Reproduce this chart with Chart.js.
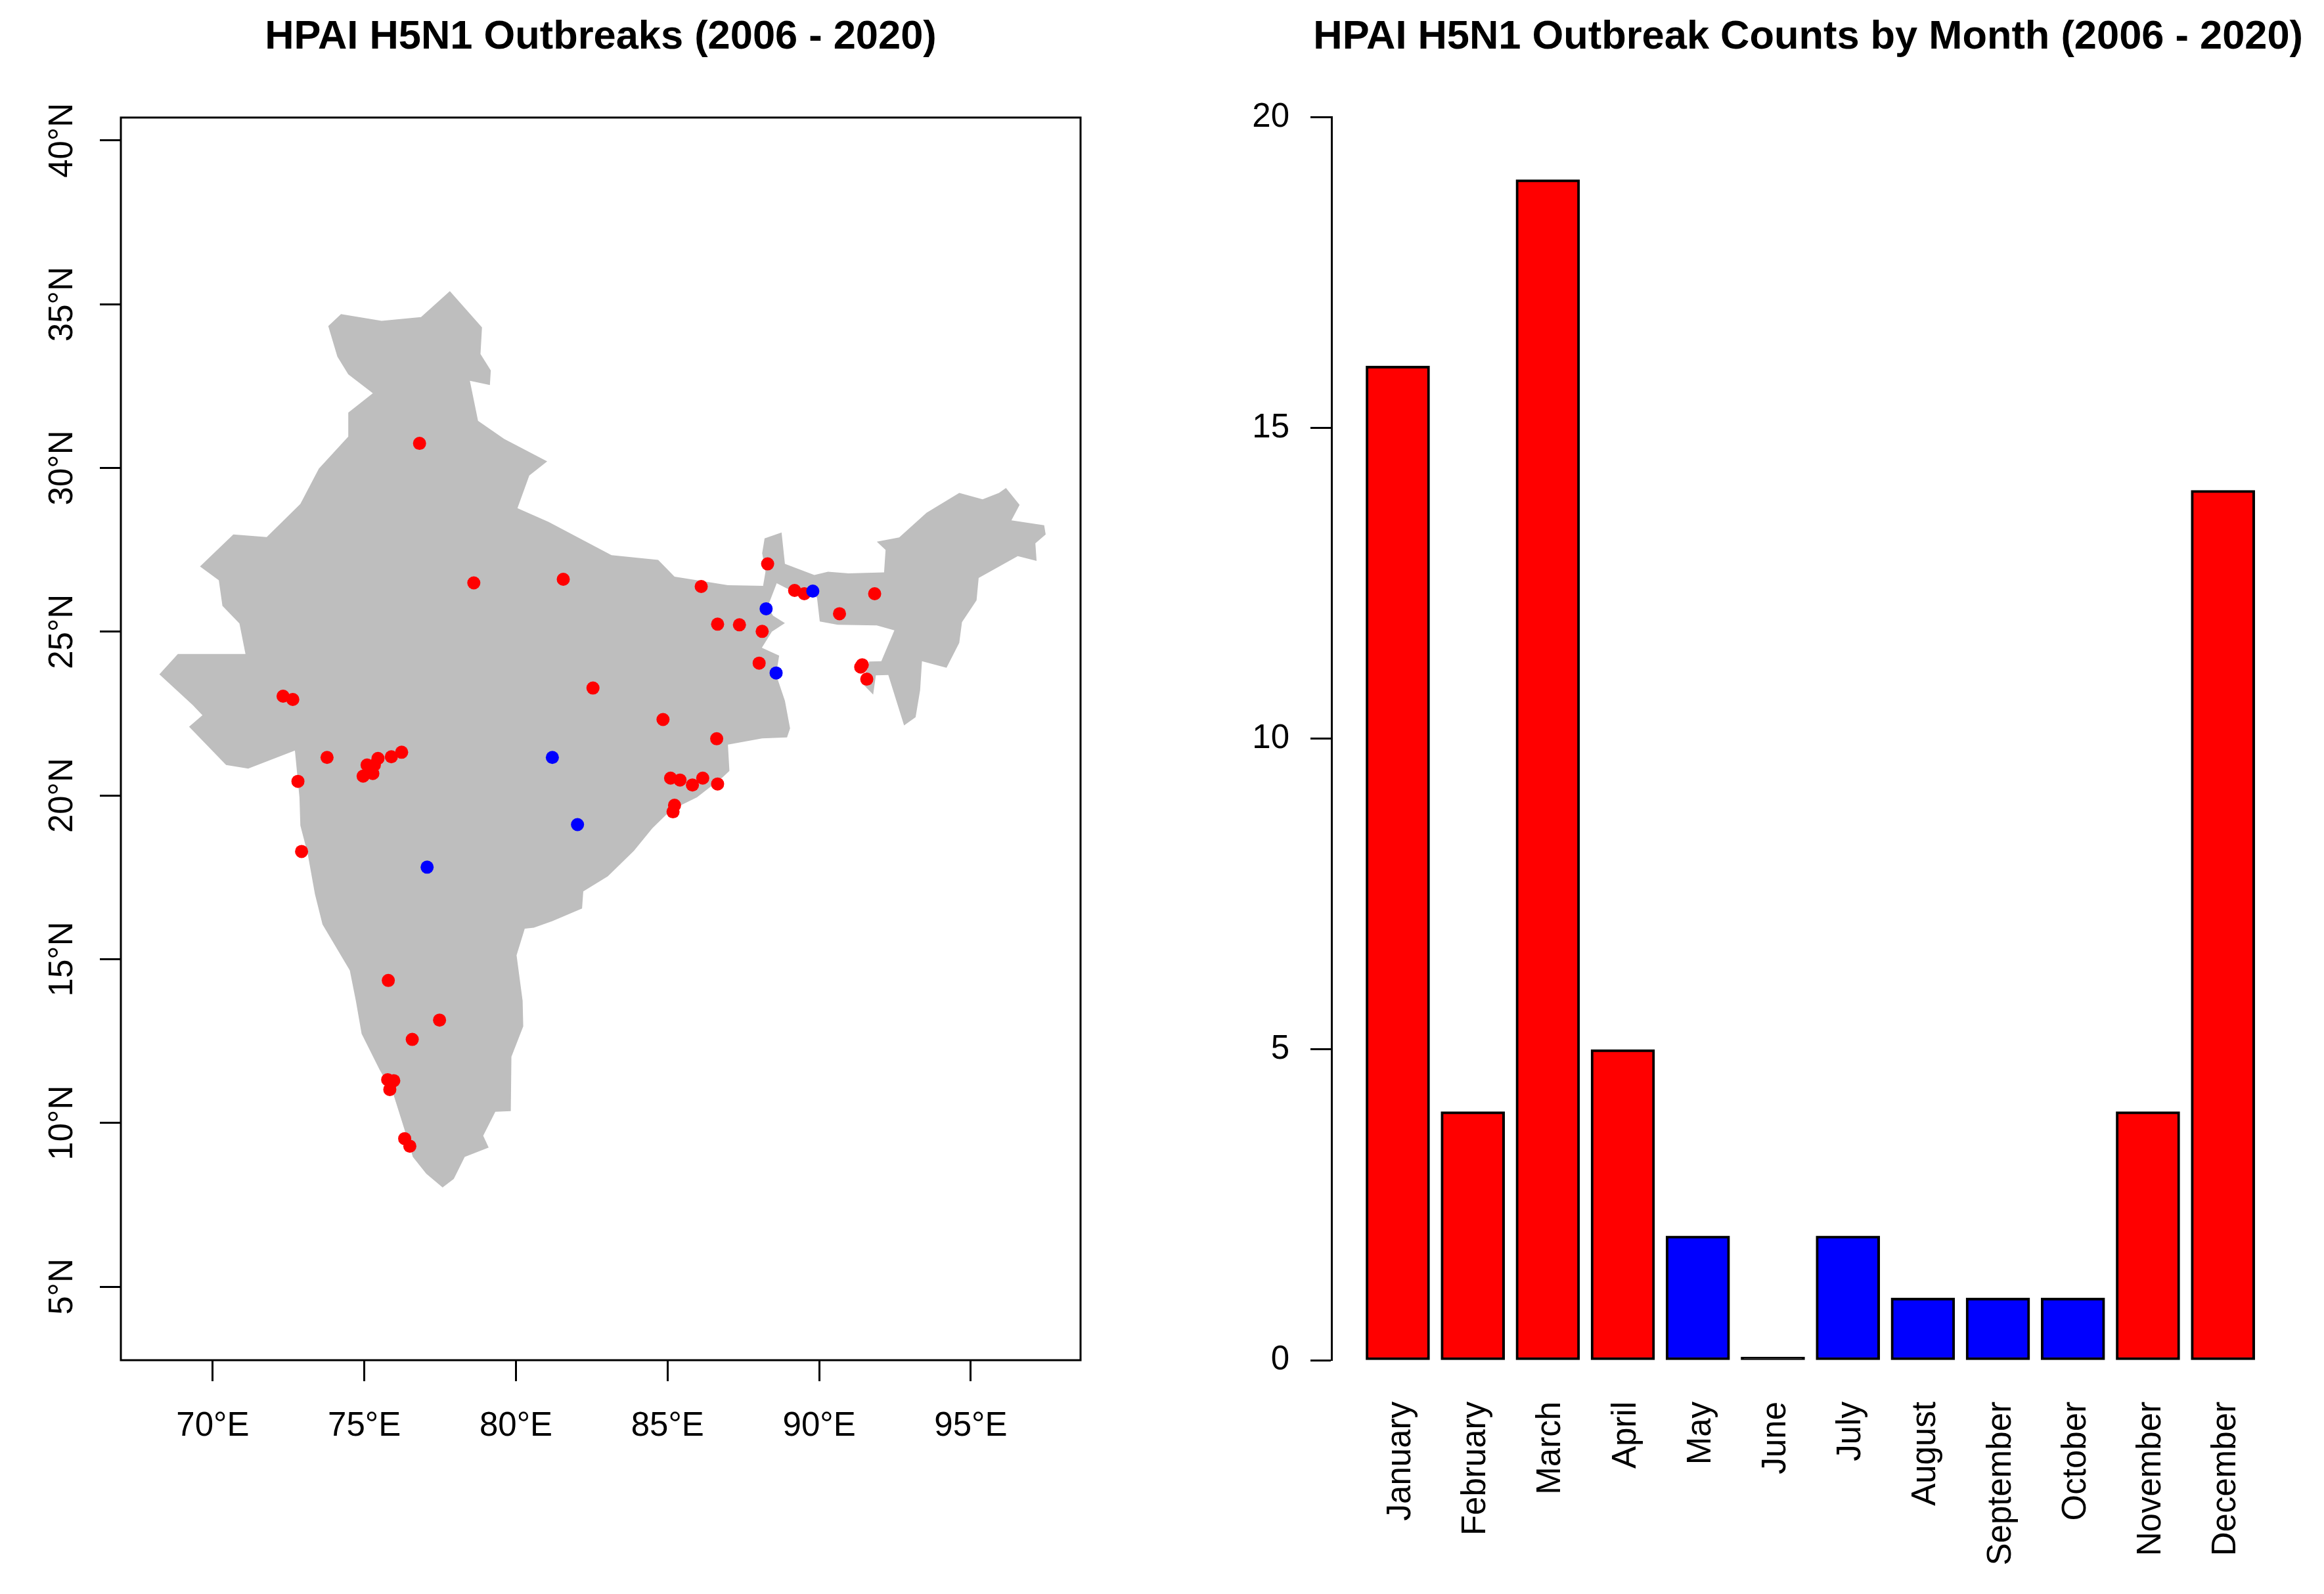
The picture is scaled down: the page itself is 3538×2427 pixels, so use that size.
<!DOCTYPE html>
<html lang="en">
<head>
<meta charset="UTF-8">
<title>HPAI H5N1 Outbreaks</title>
<script src="https://cdn.jsdelivr.net/npm/chart.js"></script>
<style>
  html, body { margin: 0; background: #fff; overflow: hidden; }
  canvas { position: absolute; top: 0; }
  #mapChart { left: 0; }
  #monthChart { left: 1880px; }
</style>
</head>
<body>
<canvas id="mapChart" width="1829" height="2427"></canvas>
<canvas id="monthChart" width="1658" height="2427"></canvas>
<script>
/*** DATA ***/
const lonTicks = [70, 75, 80, 85, 90, 95];
const latTicks = [5, 10, 15, 20, 25, 30, 35, 40];

// India outline
const mapLon = [73.81,74.23,75.57,76.87,77.82,78.88,78.83,79.17,79.14,78.48,78.75,79.61,81.03,80.44,80.05,81.08,83.15,84.69,85.23,
  86.99,88.15,88.23,88.12,88.20,88.76,88.87,89.84,90.29,90.97,92.14,92.19,91.90,92.64,93.54,94.62,95.39,95.93,96.16,96.61,96.34,97.42,97.47,97.13,97.17,96.55,95.26,95.19,94.71,94.62,94.20,93.39,93.33,93.18,92.80,92.28,91.87,91.78,91.42,91.65,92.05,92.48,91.90,90.61,90.02,89.93,89.75,88.98,88.60,88.30,88.48,88.87,88.44,88.11,88.68,88.58,88.87,89.04,88.94,88.12,86.99,87.04,86.81,
  85.97,85.11,84.50,83.89,83.03,82.22,82.18,81.20,80.59,80.29,80.02,80.22,80.24,79.85,79.83,79.32,78.92,79.10,78.31,77.95,77.58,77.04,76.60,76.31,75.94,75.50,74.91,74.72,74.52,73.62,73.37,73.13,72.89,72.86,
  72.71,71.17,70.44,69.22,69.66,69.34,68.24,68.85,71.08,70.88,70.32,70.20,69.58,70.68,71.78,72.89,73.50,74.47,74.47,75.28,74.47,74.11,73.81];
const mapLat = [34.33,34.70,34.49,34.61,35.40,34.29,33.48,32.98,32.53,32.66,31.44,30.89,30.20,29.77,28.77,28.35,27.34,27.19,26.68,
  26.42,26.40,26.83,27.40,27.85,28.03,27.07,26.73,26.83,26.78,26.81,27.50,27.75,27.88,28.63,29.24,29.04,29.24,29.39,28.87,28.40,28.25,27.97,27.70,27.16,27.31,26.64,25.96,25.29,24.66,23.90,24.10,23.22,22.39,22.14,23.68,23.67,23.08,23.42,24.09,24.10,25.04,25.19,25.21,25.31,26.03,26.30,26.30,26.48,25.76,25.49,25.26,25.00,24.51,24.27,23.69,22.89,22.05,21.77,21.74,21.55,20.75,20.55,
  19.94,19.55,19.00,18.31,17.53,17.07,16.55,16.16,15.96,15.93,15.12,13.73,12.95,12.02,10.36,10.34,9.61,9.25,8.96,8.29,8.03,8.45,8.96,9.84,10.93,11.63,12.72,13.73,14.66,16.06,16.99,18.23,19.08,19.94,
  21.37,20.82,20.93,22.10,22.45,22.76,23.70,24.32,24.32,25.25,25.79,26.57,26.99,27.97,27.89,28.90,29.98,30.96,31.69,32.28,32.86,33.40,34.33];

// Outbreak locations
const redLon = [76.82,78.61,81.56,86.11,88.30,89.19,89.51,91.83,90.67,86.65,87.37,88.12,88.02,91.42,91.37,91.57,84.85,86.62,85.10,85.41,85.82,86.16,86.65,82.54,72.32,72.64,73.77,72.81,76.23,75.89,75.45,75.33,75.09,75.28,74.96,85.23,85.18,72.93,75.79,77.48,76.58,75.77,75.97,75.84,76.33,76.50];
const redLat = [30.75,26.49,26.60,26.38,27.07,26.26,26.16,26.16,25.55,25.23,25.21,25.01,24.04,23.99,23.92,23.55,22.32,21.73,20.53,20.47,20.32,20.53,20.35,23.28,23.03,22.93,21.16,20.43,21.32,21.18,21.13,20.93,20.93,20.67,20.59,19.70,19.50,18.29,14.35,13.14,12.55,11.32,11.29,11.02,9.52,9.29];
const blueLon = [89.79,88.25,88.58,81.20,82.03,77.07];
const blueLat = [26.24,25.70,23.74,21.16,19.11,17.81];

const months = ['January','February','March','April','May','June','July','August','September','October','November','December'];
const monthCounts = [16,4,19,5,2,0,2,1,1,1,4,14];
const countTicks = [0,5,10,15,20];

/*** SHARED ***/
const FONT = '"Liberation Sans", Arial, sans-serif';
Chart.defaults.font.family = FONT;
Chart.defaults.color = '#000';
Chart.defaults.animation = false;

const zip = (xs, ys) => xs.map((x, i) => ({ x: x, y: ys[i] }));
const titleOpts = (text, align, fullSize) => ({
  display: true, text: text, align: align, fullSize: fullSize, color: '#000',
  font: { size: 61.4, weight: 'bold', lineHeight: 1.2 },
  padding: { top: 20, bottom: 85.3 }
});

// box round the map
const frame = {
  id: 'frame',
  afterDatasetsDraw(chart) {
    const a = chart.chartArea, ctx = chart.ctx;
    ctx.save();
    ctx.strokeStyle = '#000';
    ctx.lineWidth = 3;
    ctx.strokeRect(a.left, a.top, a.right - a.left, a.bottom - a.top);
    ctx.restore();
  }
};

/*** MAP ***/
new Chart(document.getElementById('mapChart'), {
  type: 'scatter',
  data: { datasets: [
    { type: 'line', data: zip(mapLon, mapLat), order: 3, fill: 'shape', backgroundColor: '#bebebe',
      borderWidth: 0, pointRadius: 0, tension: 0 },
    { data: zip(redLon, redLat), order: 2, backgroundColor: '#ff0000', pointRadius: 10, borderWidth: 0 },
    { data: zip(blueLon, blueLat), order: 1, backgroundColor: '#0000ff', pointRadius: 10, borderWidth: 0 }
  ]},
  options: {
    responsive: false,
    layout: { padding: { right: 184 } },
    plugins: { legend: { display: false }, tooltip: { enabled: false }, title: titleOpts('HPAI H5N1 Outbreaks (2006 - 2020)', 'center', false) },
    scales: {
      x: {
        type: 'linear', min: 66.97, max: 98.62,
        afterBuildTicks: s => { s.ticks = lonTicks.map(v => ({ value: v })); },
        afterFit: s => { s.height = 356; },
        grid: { drawOnChartArea: false, tickLength: 32, tickColor: '#000', tickWidth: 3 },
        border: { display: false },
        ticks: { font: { size: 51 }, padding: 38, maxRotation: 0, autoSkip: false, callback: v => v + '°E' }
      },
      y: {
        type: 'linear', min: 2.755, max: 40.7,
        afterBuildTicks: s => { s.ticks = latTicks.map(v => ({ value: v })); },
        afterFit: s => { s.width = 184; },
        grid: { drawOnChartArea: false, tickLength: 32, tickColor: '#000', tickWidth: 3 },
        border: { display: false },
        ticks: { font: { size: 51 }, padding: -1, minRotation: 90, maxRotation: 90, crossAlign: 'center', autoSkip: false, callback: v => v + '°N' }
      }
    }
  },
  plugins: [frame]
});

/*** MONTHS ***/
new Chart(document.getElementById('monthChart'), {
  type: 'bar',
  data: { datasets: [{
    data: zip(months.map((m, i) => i), monthCounts),
    // the empty month is only its black outline
    backgroundColor: monthCounts.map(v => v > 3 ? '#ff0000' : v > 0 ? '#0000ff' : '#000'),
    borderColor: '#000', borderWidth: 4, borderSkipped: false,
    barThickness: 97, minBarLength: 5, clip: false
  }]},
  options: {
    responsive: false,
    layout: { padding: { right: 32 } },
    plugins: { legend: { display: false }, tooltip: { enabled: false }, title: titleOpts('HPAI H5N1 Outbreak Counts by Month (2006 - 2020)', 'end', true) },
    scales: {
      x: {
        type: 'linear', offset: false, min: -0.884, max: 12.067,
        afterBuildTicks: s => { s.ticks = months.map((m, i) => ({ value: i })); },
        afterFit: s => { s.height = 356; },
        grid: { display: false },
        border: { display: false },
        ticks: { font: { size: 51 }, padding: 55, labelOffset: 5, minRotation: 90, maxRotation: 90, autoSkip: false, callback: v => months[v] }
      },
      y: {
        type: 'linear', min: 0, max: 20,
        afterBuildTicks: s => { s.ticks = countTicks.map(v => ({ value: v })); },
        afterFit: s => { s.width = 147; },
        grid: { drawOnChartArea: false, tickLength: 32, tickColor: '#000', tickWidth: 3 },
        border: { display: true, color: '#000', width: 3 },
        ticks: { font: { size: 51 }, padding: 32, autoSkip: false }
      }
    }
  }
});
</script>
</body>
</html>
